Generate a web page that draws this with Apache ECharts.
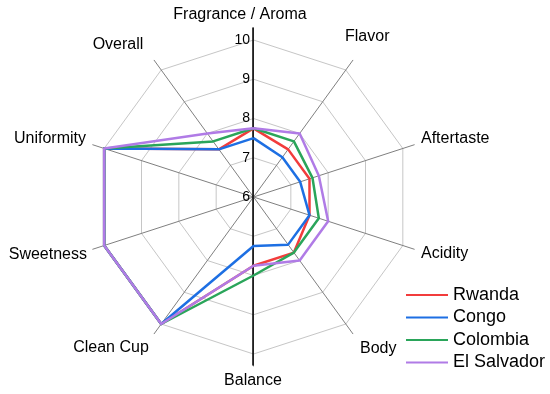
<!DOCTYPE html>
<html>
<head>
<meta charset="utf-8">
<script src="https://cdn.jsdelivr.net/npm/echarts@6/dist/echarts.min.js"></script>
<style>
html,body{margin:0;padding:0;background:#fff;}
#c{width:550px;height:394px;}
</style>
</head>
<body>
<div id="c"></div>
<script>
// Categories listed clockwise starting at the top
var categories = ['Fragrance / Aroma','Flavor','Aftertaste','Acidity','Body','Balance','Clean Cup','Sweetness','Uniformity','Overall'];
var seriesNames = ['Rwanda','Congo','Colombia','El Salvador'];
var rwanda     = [7.75, 7.5,  7.5,  7.5,  7.75, 7.75, 10, 10, 10, 7.5];
var congo      = [7.5,  7.25, 7.25, 7.5,  7.5,  7.25, 10, 10, 10, 7.5];
var colombia   = [7.75, 7.75, 7.58, 7.75, 7.75, 8.0,  10, 10, 10, 7.75];
var elSalvador = [7.75, 8.0,  7.75, 8.0,  8.0,  7.75, 10, 10, 10, 8.0];
var ticks = [6, 7, 8, 9, 10];

var colors = ['#f23c3c', '#1d6fe3', '#2aa55a', '#b07be6'];
var FONT = "'Liberation Sans', Arial, sans-serif";

// ECharts radar runs counter-clockwise; reorder so categories read clockwise.
var order = [0,9,8,7,6,5,4,3,2,1];
function reorder(a){ return order.map(function(i){ return a[i]; }); }

var cx = 253.5, cy = 197, R = 157, Raxis = 169;
var unit = R / (ticks[ticks.length-1] - ticks[0]);

// label layout (style, not data)
var labelLayout = [
  {x:240, y:15, align:'center'},
  {x:345, y:37, align:'left'},
  {x:421, y:139, align:'left'},
  {x:421, y:254, align:'left'},
  {x:360, y:349, align:'left'},
  {x:253, y:381, align:'center'},
  {x:111, y:348, align:'center'},
  {x:87,  y:255, align:'right'},
  {x:86,  y:139, align:'right'},
  {x:118, y:45,  align:'center'}
];

var indicators = reorder(categories).map(function(n){ return {name:n, min:ticks[0], max:ticks[ticks.length-1]}; });
var allData = [rwanda, congo, colombia, elSalvador];

var yMin = ticks[0] - (365 - cy) / unit;
var yMax = ticks[0] + (cy - 28) / unit;

var option = {
  animation: false,
  backgroundColor: '#fff',
  textStyle: {fontFamily: FONT},
  radar: [
    {
      center: [cx, cy], radius: R, startAngle: 90, shape: 'polygon', splitNumber: 4,
      indicator: indicators,
      axisName: {show:false},
      axisLine: {show:false},
      axisTick: {show:false},
      axisLabel: {show:false},
      splitArea: {show:false},
      splitLine: {lineStyle:{color:'#c6c6c6', width:1}}
    },
    {
      center: [cx, cy], radius: Raxis, startAngle: 90, shape: 'polygon', splitNumber: 1,
      indicator: indicators,
      axisName: {show:false},
      axisLine: {lineStyle:{color:'#808080', width:1}},
      axisTick: {show:false},
      axisLabel: {show:false},
      splitArea: {show:false},
      splitLine: {show:false}
    }
  ],
  grid: {left: cx - 0.5, top: 28, height: 365 - 28, width: 10, containLabel: false},
  xAxis: {type:'value', show:false},
  yAxis: {
    type:'value', min: yMin, max: yMax, z: 1,
    axisLine: {show:true, lineStyle:{color:'#000', width:1.5}},
    axisTick: {show:false},
    splitLine: {show:false},
    axisLabel: {customValues: ticks, fontSize: 14, color:'#000', margin: 3, fontFamily: FONT}
  },
  legend: {
    data: seriesNames, orient: 'vertical', left: 406, top: 286, padding: 0,
    itemWidth: 42, itemHeight: 2, itemGap: 4.5, icon: 'rect',
    textStyle: {fontSize: 18, color:'#000', fontFamily: FONT}
  },
  series: [{
    type: 'radar', radarIndex: 0, z: 3,
    symbol: 'none',
    data: allData.map(function(d, i){
      return {name: seriesNames[i], value: reorder(d),
        lineStyle:{color: colors[i], width: 2.5}, itemStyle:{color: colors[i]}};
    })
  }],
  graphic: categories.map(function(n, i){
    var p = labelLayout[i];
    return {type:'text', x:p.x, y:p.y, style:{text:n, fill:'#000', font:'16px ' + FONT, textAlign:p.align, textVerticalAlign:'middle'}};
  })
};

var chart = echarts.init(document.getElementById('c'), null, {renderer:'canvas'});
chart.setOption(option);
</script>
</body>
</html>
